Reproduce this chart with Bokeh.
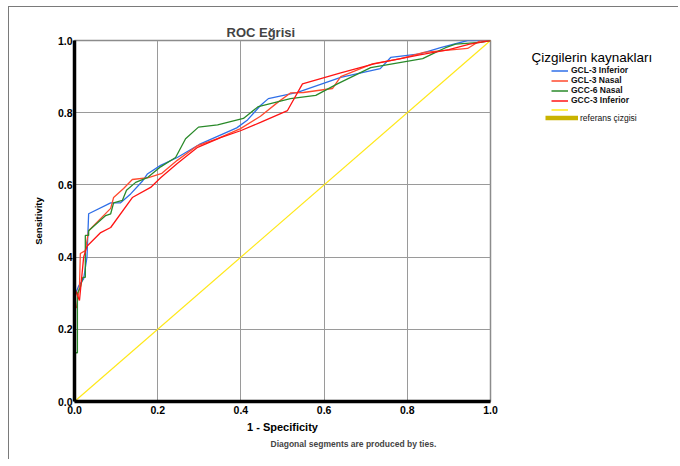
from bokeh.plotting import figure
from bokeh.layouts import row
from bokeh.models import Legend, LegendItem, Label, FixedTicker, PrintfTickFormatter, Range1d, Title
from bokeh.core.properties import value
from bokeh.embed import file_html
from bokeh.resources import INLINE

# ---- data ----
ticks = [0.0, 0.2, 0.4, 0.6, 0.8, 1.0]
series_names = ["GCL-3 Inferior", "GCL-3 Nasal", "GCC-6 Nasal", "GCC-3 Inferior"]

gcl3_inf_fpr = [0, 0, 0.003, 0.010, 0.022, 0.030, 0.034, 0.087, 0.110, 0.135, 0.163, 0.175, 0.207,
                0.247, 0.300, 0.390, 0.416, 0.447, 0.466, 0.536, 0.640, 0.735, 0.760, 0.830, 0.880,
                0.945, 1.0]
gcl3_inf_tpr = [0, 0.30, 0.30, 0.32, 0.34, 0.40, 0.52, 0.55, 0.55, 0.575, 0.61, 0.63, 0.654,
                0.676, 0.712, 0.758, 0.78, 0.82, 0.839, 0.856, 0.898, 0.922, 0.953, 0.963, 0.98,
                1.0, 1.0]

gcl3_nas_fpr = [0, 0, 0.005, 0.012, 0.014, 0.026, 0.034, 0.087, 0.094, 0.118, 0.139, 0.178, 0.210,
                0.247, 0.296, 0.344, 0.399, 0.447, 0.490, 0.520, 0.550, 0.620, 0.640, 0.716, 0.784,
                0.840, 0.945, 0.976, 1.0]
gcl3_nas_tpr = [0, 0.26, 0.26, 0.32, 0.41, 0.418, 0.473, 0.535, 0.565, 0.59, 0.615, 0.62, 0.632,
                0.668, 0.709, 0.728, 0.756, 0.79, 0.83, 0.855, 0.856, 0.867, 0.90, 0.935, 0.95,
                0.967, 0.978, 1.0, 1.0]

gcc6_nas_fpr = [0, 0, 0.007, 0.007, 0.014, 0.020, 0.026, 0.026, 0.034, 0.034, 0.075, 0.087, 0.094,
                0.115, 0.125, 0.147, 0.175, 0.207, 0.243, 0.267, 0.298, 0.344, 0.406, 0.442, 0.519,
                0.580, 0.632, 0.712, 0.837, 0.868, 0.892, 0.916, 0.976, 1.0]
gcc6_nas_tpr = [0, 0.135, 0.135, 0.30, 0.316, 0.344, 0.344, 0.46, 0.46, 0.473, 0.515, 0.52, 0.55,
                0.557, 0.585, 0.607, 0.62, 0.65, 0.676, 0.728, 0.76, 0.766, 0.784, 0.817, 0.839,
                0.848, 0.88, 0.925, 0.95, 0.967, 0.98, 0.99, 0.995, 1.0]

gcc3_inf_fpr = [0, 0, 0.005, 0.012, 0.017, 0.022, 0.030, 0.063, 0.087, 0.139, 0.183, 0.207, 0.247,
                0.296, 0.351, 0.399, 0.447, 0.512, 0.548, 0.640, 0.720, 0.830, 0.900, 0.950, 1.0]
gcc3_inf_tpr = [0, 0.316, 0.30, 0.28, 0.34, 0.40, 0.43, 0.468, 0.482, 0.565, 0.593, 0.62, 0.659,
                0.704, 0.731, 0.75, 0.773, 0.806, 0.88, 0.91, 0.935, 0.96, 0.975, 0.99, 1.0]

ref_x = [0.0, 1.0]
ref_y = [0.0, 1.0]

legend_title = "Çizgilerin kaynakları"
ref_label = "referans çizgisi"
footnote = "Diagonal segments are produced by ties."

series_colors = ["#2f6fe8", "#ff4a2e", "#2a8a2a", "#ff1414"]
diag_color = "#ffe81a"
ref_swatch_color = "#c9b300"

FONT = "Liberation Sans"
H = 452
BT, BB = 33, 58          # frame borders shared by both panels
FH = H - BT - BB         # frame height in px

all_fpr = [gcl3_inf_fpr, gcl3_nas_fpr, gcc6_nas_fpr, gcc3_inf_fpr]
all_tpr = [gcl3_inf_tpr, gcl3_nas_tpr, gcc6_nas_tpr, gcc3_inf_tpr]

# ---------------- main chart ----------------
p = figure(width=491, height=H, output_backend="svg", toolbar_location=None,
           x_range=Range1d(0, 1), y_range=Range1d(0, 1),
           min_border_left=65, min_border_right=10, min_border_top=BT, min_border_bottom=BB)
p.background_fill_color = "white"
p.border_fill_color = "white"
p.outline_line_color = "#8c8c8c"
p.outline_line_width = 1.5

p.title.text = "ROC Eğrisi"
p.title.text_font = FONT
p.title.text_font_size = "13px"
p.title.text_font_style = "bold"
p.title.align = "left"
p.title.offset = 152
p.title.standoff = 2

for ax in (p.xaxis[0], p.yaxis[0]):
    ax.ticker = FixedTicker(ticks=ticks)
    ax.formatter = PrintfTickFormatter(format="%.1f")
    ax.axis_line_width = 3.5
    ax.axis_line_color = "black"
    ax.major_tick_line_color = None
    ax.minor_tick_line_color = None
    ax.major_tick_out = 0
    ax.major_tick_in = 0
    ax.minor_tick_out = 0
    ax.major_label_text_font = FONT
    ax.major_label_text_font_style = "bold"
    ax.major_label_text_font_size = "10.5px"
    ax.major_label_text_color = "black"
    ax.axis_label_text_font = FONT
    ax.axis_label_text_font_style = "bold"
    ax.axis_label_text_color = "black"

p.xaxis.axis_label = "1 - Specificity"
p.xaxis.axis_label_text_font_size = "11px"
p.xaxis.major_label_standoff = 4
p.xaxis.axis_label_standoff = 4
p.yaxis.axis_label = "Sensitivity"
p.yaxis.axis_label_text_font_size = "9.5px"
p.yaxis.major_label_standoff = 2
p.yaxis.axis_label_standoff = 11

for g in (p.xgrid[0], p.ygrid[0]):
    g.ticker = FixedTicker(ticks=ticks)
    g.grid_line_color = "#9a9a9a"
    g.grid_line_width = 1

diag = p.line(ref_x, ref_y, line_color=diag_color, line_width=1.2)
for xs, ys, c in zip(all_fpr, all_tpr, series_colors):
    p.line(xs, ys, line_color=c, line_width=1.3)

p.add_layout(Title(text=footnote, align="left", offset=196, text_font=FONT,
                   text_font_size="8.5px", text_font_style="bold", standoff=2), "below")

# ---------------- legend panel ----------------
LW = 178
lf = figure(width=LW, height=H, output_backend="svg", toolbar_location=None,
            x_range=Range1d(0, LW), y_range=Range1d(0, FH),
            min_border_left=0, min_border_right=0,
            min_border_top=BT, min_border_bottom=BB)
lf.axis.visible = False
lf.grid.visible = False
lf.outline_line_color = None
lf.background_fill_color = "white"
lf.border_fill_color = "white"

# hidden copies of the series, only used to draw the legend swatches
leg_renderers = [lf.line(xs, ys, line_color=c, line_width=1.5, visible=False)
                 for xs, ys, c in zip(all_fpr, all_tpr, series_colors)]
leg_diag = lf.line(ref_x, ref_y, line_color=diag_color, line_width=1.5, visible=False)
leg_ref = lf.line(ref_x, ref_y, line_color=ref_swatch_color, line_width=4.5, visible=False)

# positions below are pixel offsets from the legend panel's frame (page y 40..401)
items = [LegendItem(label=value(n), renderers=[r]) for n, r in zip(series_names, leg_renderers)]
items.append(LegendItem(label=value(" "), renderers=[leg_diag]))
common = dict(spacing=0, padding=0, margin=0, border_line_color=None,
              background_fill_alpha=0, inactive_fill_alpha=0,
              label_text_font=FONT, label_text_font_size="8.5px", label_text_color="#111111",
              glyph_height=9, label_height=9, click_policy="none")
leg1 = Legend(items=items, location=(51, 287), orientation="vertical",
              glyph_width=17, label_standoff=3, label_text_font_style="bold", **common)
leg2 = Legend(items=[LegendItem(label=value(ref_label), renderers=[leg_ref])],
              location=(45, 278.5), glyph_width=33, label_standoff=2, **common)
lf.add_layout(leg1, "center")
lf.add_layout(leg2, "center")
lf.add_layout(Label(x=31, y=344, text=legend_title, text_font=FONT,
                    text_font_size="13.5px", text_baseline="middle", text_color="black"))

lay = row(p, lf)
lay.margin = (6, 0, 0, 8)
lay.styles = {"border-left": "1px solid #7a7a7a", "border-top": "1px solid #7a7a7a"}

open("out.html", "w").write(file_html(lay, INLINE))
